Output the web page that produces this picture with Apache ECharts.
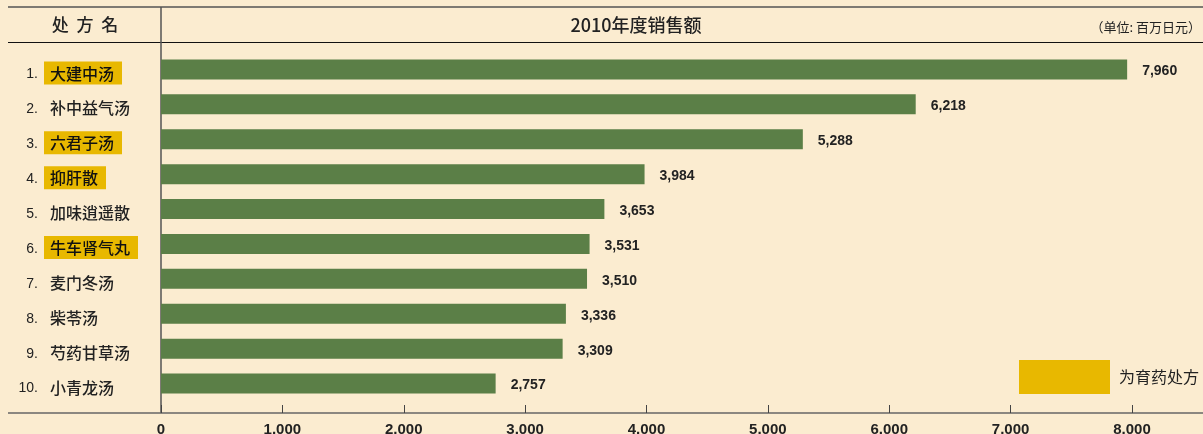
<!DOCTYPE html>
<html>
<head>
<meta charset="utf-8">
<script src="https://cdn.jsdelivr.net/npm/echarts@6/dist/echarts.min.js"></script>
<style>
html,body{margin:0;padding:0;background:#FBECD0;}
#c{width:1203px;height:434px;}
</style>
</head>
<body>
<div id="c"></div>
<script>
const categories = ['大建中汤','补中益气汤','六君子汤','抑肝散','加味逍遥散','牛车肾气丸','麦门冬汤','柴苓汤','芍药甘草汤','小青龙汤'];
const values = [7960, 6218, 5288, 3984, 3653, 3531, 3510, 3336, 3309, 2757];
const isIkuyaku = [true, false, true, true, false, true, false, false, false, false];
const xTicks = [0, 1000, 2000, 3000, 4000, 5000, 6000, 7000, 8000];
const headerName = '处  方  名';
const headerTitle = '2010年度销售额';
const unitText = '（单位: 百万日元）';
const legendName = '为育药处方';

const CJK = '"Noto Sans CJK JP","Noto Sans CJK SC",sans-serif';
const NUM = '"Liberation Sans","DejaVu Sans",sans-serif';
const fmt = v => String(v).replace(/\B(?=(\d{3})+(?!\d))/g, ',');

const chart = echarts.init(document.getElementById('c'));
chart.setOption({
  backgroundColor: '#FBECD0',
  animation: false,
  grid: {left: 161, right: 71, top: 53, height: 349, outerBoundsMode: 'none', containLabel: false},
  legend: {
    data: [legendName], left: 1019, top: 360, padding: 0,
    itemWidth: 91, itemHeight: 34, icon: 'rect',
    textStyle: {fontFamily: CJK, fontSize: 16, color: '#222', padding: [0,0,0,4]}
  },
  xAxis: {
    type: 'value', min: xTicks[0], max: xTicks[xTicks.length - 1], interval: 1000, position: 'bottom', offset: 11,
    axisLine: {show: false},
    axisTick: {show: true, inside: true, length: 8, lineStyle: {color: '#444', width: 1}},
    splitLine: {show: false},
    axisLabel: {margin: 9, fontFamily: NUM, fontSize: 15, fontWeight: 'bold', color: '#222', formatter: v => fmt(v)}
  },
  yAxis: [
    {
      type: 'category', data: categories, inverse: true, position: 'left',
      axisLine: {show: false}, axisTick: {show: false},
      axisLabel: {margin: 123, align: 'right', padding: [8,0,0,0],
        formatter: (v, i) => '{a|' + (i + 1) + '.}',
        rich: {a: {fontFamily: NUM, fontSize: 14, color: '#222'}}}
    },
    {
      type: 'category', data: categories, inverse: true, position: 'left',
      axisLine: {show: false}, axisTick: {show: false},
      axisLabel: {margin: 117, align: 'left', padding: [5,0,0,0],
        formatter: (v, i) => isIkuyaku[i] ? '{hl|' + v + '}' : '{n|' + v + '}',
        rich: {
          hl: {fontFamily: CJK, fontSize: 16, fontWeight: 500, color: '#111', backgroundColor: '#E8B800', padding: [4,8,3,6]},
          n: {fontFamily: CJK, fontSize: 16, fontWeight: 500, color: '#222', padding: [4,8,3,6]}
        }}
    }
  ],
  series: [
    {
      type: 'bar', data: values, yAxisIndex: 0, barWidth: 20,
      itemStyle: {color: '#5B7F47'},
      label: {show: true, position: 'right', distance: 15, offset: [0, 2], fontFamily: NUM, fontSize: 14, fontWeight: 'bold', color: '#222',
        formatter: p => fmt(p.value)}
    },
    {name: legendName, type: 'bar', data: [], itemStyle: {color: '#E8B800'}}
  ],
  graphic: [
    {type: 'line', shape: {x1: 8, y1: 7, x2: 1203, y2: 7}, style: {stroke: '#555', lineWidth: 1.5}},
    {type: 'line', shape: {x1: 8, y1: 42.5, x2: 1203, y2: 42.5}, style: {stroke: '#111', lineWidth: 1.2}},
    {type: 'line', shape: {x1: 161, y1: 7, x2: 161, y2: 413}, style: {stroke: '#555', lineWidth: 1.5}},
    {type: 'line', shape: {x1: 8, y1: 413, x2: 1203, y2: 413}, style: {stroke: '#666', lineWidth: 1.5}},
    {type: 'text', x: 85, y: 25, style: {text: headerName, font: '500 17px ' + CJK, fill: '#222', textAlign: 'center', textVerticalAlign: 'middle'}},
    {type: 'text', x: 636, y: 25, style: {text: headerTitle, font: '500 18px ' + CJK, fill: '#222', textAlign: 'center', textVerticalAlign: 'middle'}},
    {type: 'text', x: 1201, y: 27, style: {text: unitText, font: '13px ' + CJK, fill: '#222', textAlign: 'right', textVerticalAlign: 'middle'}}
  ]
});
</script>
</body>
</html>
